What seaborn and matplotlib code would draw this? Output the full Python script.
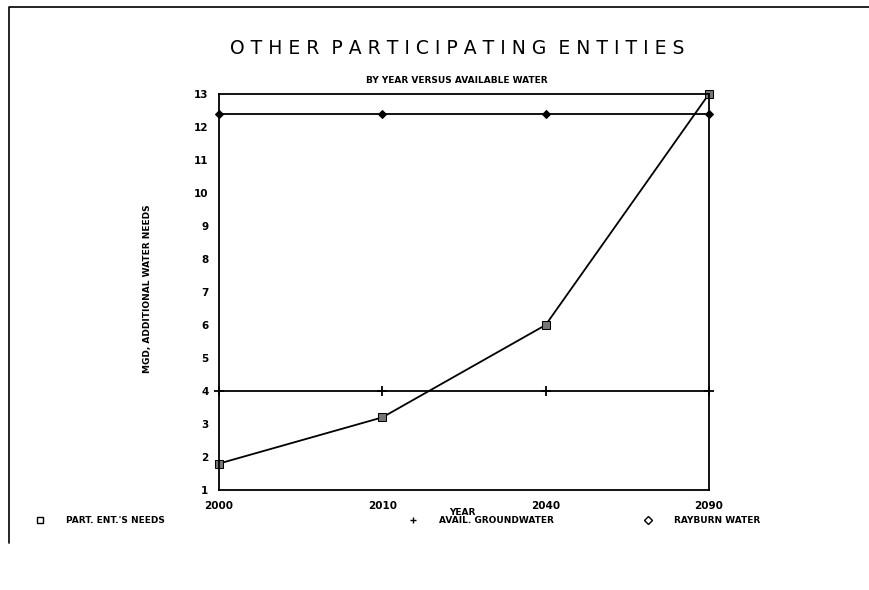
import numpy as np
import pandas as pd
import seaborn as sns
import matplotlib.pyplot as plt
from matplotlib.lines import Line2D

# data
years = ["2000", "2010", "2040", "2090"]
needs = [1.8, 3.2, 6.0, 13.0]
groundwater = [4.0, 4.0, 4.0, 4.0]
rayburn = [12.4, 12.4, 12.4, 12.4]

sns.set_style("white")
plt.rcParams['font.family'] = ['DejaVu Sans']
plt.rcParams['text.color'] = 'black'
plt.rcParams['xtick.color'] = 'black'
plt.rcParams['ytick.color'] = 'black'

pos = np.arange(len(years))

fig = plt.figure(figsize=(8.7, 5.9), dpi=100)
ax = fig.add_axes([0.2517, 0.1695, 0.5632, 0.6712])

# one call per series so each can keep its own marker
sns.lineplot(x=pos, y=rayburn, color='black', linewidth=1.3, marker='D',
             markersize=4, markerfacecolor='black', markeredgecolor='black', ax=ax)
sns.lineplot(x=pos, y=groundwater, color='black', linewidth=1.3, marker='+',
             markersize=7, markeredgewidth=1.3, markeredgecolor='black', ax=ax)
sns.lineplot(x=pos, y=needs, color='black', linewidth=1.3, marker='s',
             markersize=6, markerfacecolor='#777777', markeredgecolor='black', ax=ax)

# let markers sit over the spines
for line in ax.get_lines():
    line.set_clip_on(False)

ax.set_xlim(pos[0], pos[-1])
ax.set_ylim(1, 13)
ax.set_xticks(pos)
ax.set_xticklabels(years)
ax.set_yticks(range(1, 14))
ax.tick_params(axis='y', direction='inout', length=8, width=1.2, labelsize=7.5)
ax.tick_params(axis='x', direction='in', length=5, width=1.0, labelsize=7.5, pad=8)
for lab in ax.get_xticklabels() + ax.get_yticklabels():
    lab.set_fontweight('bold')
for s in ax.spines.values():
    s.set_color('black')
    s.set_linewidth(1.3)
ax.set_xlabel("")
ax.set_ylabel("")

fig.text(0.525, 0.918, "O T H E R  P A R T I C I P A T I N G  E N T I T I E S",
         ha='center', va='center', fontsize=13.5, fontweight='normal')
fig.text(0.525, 0.864, "BY YEAR VERSUS AVAILABLE WATER", ha='center', va='center',
         fontsize=6.5, fontweight='bold')
fig.text(0.170, 0.51, "MGD, ADDITIONAL WATER NEEDS", ha='center', va='center',
         rotation=90, fontsize=6.5, fontweight='bold')
fig.text(0.531, 0.132, "YEAR", ha='center', va='center', fontsize=6.5, fontweight='bold')

# legend row along the bottom
leg_y = 0.118
items = [(0.046, 's', "PART. ENT.'S NEEDS"),
         (0.475, '+', "AVAIL. GROUNDWATER"),
         (0.745, 'D', "RAYBURN WATER")]
for x, m, txt in items:
    fig.add_artist(Line2D([x], [leg_y], marker=m, color='black', markerfacecolor='none',
                          markersize=5 if m != 'D' else 4, linestyle='none',
                          transform=fig.transFigure))
    fig.text(x + 0.03, leg_y, txt, va='center', fontsize=6.5, fontweight='bold')

# page frame
fig.add_artist(Line2D([0.01, 0.01, 1.0], [0.08, 0.988, 0.988], color='black',
                      linewidth=1.2, transform=fig.transFigure))

fig.savefig('out.png', dpi=100)
